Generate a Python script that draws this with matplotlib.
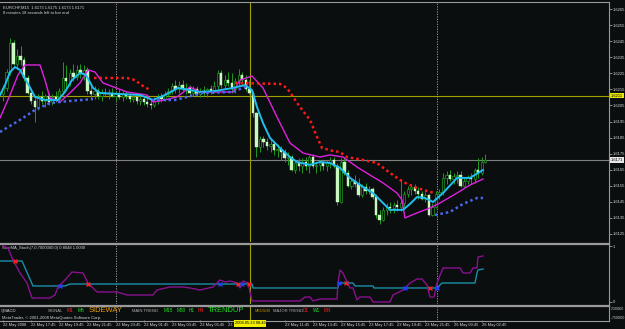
import matplotlib
matplotlib.use("Agg")
import matplotlib.pyplot as plt
from matplotlib.lines import Line2D
from matplotlib.transforms import blended_transform_factory as btf

# ---------------- data ----------------
BASE = 1.6200  # price base; candle / line series below are in pips relative to it
open_pips = [12,16,26,44,31,36,33,22,13,8, 4,10,8,11,7,10,9,14,22,20,
             25,23,27,25,27,14,12,14,11,13, 12,13,11,12,10,12,11,9,10,8,
             9,7,6,5,8,10,9,12,14,17, 15,18,15,16,13,15,12,14,13,15,
             14,17,25,18,21,19,15,20,24,21, 15,13,0,-21,-16,-18,-20,-19,-23,-22,
             -24,-28,-27,-35,-31,-33,-30,-33,-27,-33, -32,-31,-33,-30,-29,-33,-55,-30,-37,-45,
             -42,-44,-51,-46,-48,-47,-52,-63,-66,-60, -58,-59,-57,-58,-56,-50,-47,-46,-48,-50,
             -53,-51,-63,-58,-50,-49,-40,-38,-41,-39, -38,-45,-42,-40,-41,-35,-37,-30]
high_pips = [18,28,47,46,40,42,35,24,16,10, 12,14,12,13,12,14,16,32,30,28,
             31,30,31,30,29,19,17,16,15,16, 15,16,14,15,14,14,13,12,12,11,
             11,10,9,10,12,13,14,16,19,21, 20,21,19,18,17,17,16,17,16,18,
             20,27,27,24,26,25,22,28,26,24, 21,14,1,-14,-14,-15,-16,-17,-19,-20,
             -22,-24,-26,-29,-28,-28,-27,-26,-25,-30, -29,-29,-29,-27,-27,-31,-28,-27,-35,-40,
             -38,-40,-44,-43,-45,-46,-50,-60,-58,-56, -55,-55,-54,-41,-48,-45,-44,-44,-46,-48,
             -49,-50,-56,-48,-47,-37,-36,-35,-37,-36, -36,-40,-38,-37,-34,-28,-27,-25]
low_pips = [8,14,24,30,28,30,20,12,6,-5, 2,6,4,5,5,7,7,12,16,17,
            20,21,22,21,12,9,9,9,8,10, 9,10,8,9,8,9,7,7,6,5,
            5,4,3,4,6,7,8,10,12,13, 13,14,12,11,11,11,10,11,10,12,
            13,15,16,15,17,13,13,17,18,14, 12,-2,-27,-24,-21,-23,-24,-26,-27,-29,
            -30,-32,-36,-37,-36,-37,-35,-37,-34,-37, -36,-35,-36,-34,-34,-57,-56,-38,-46,-47,
            -46,-52,-52,-50,-50,-53,-65,-69,-67,-63, -62,-62,-61,-61,-58,-52,-51,-50,-53,-54,
            -55,-64,-64,-59,-53,-51,-44,-42,-44,-43, -46,-46,-44,-44,-43,-40,-38,-31]
close_pips = [16,26,44,31,36,33,22,13,8,4, 10,8,11,7,10,9,14,22,20,25,
              23,27,25,27,14,12,14,11,13,12, 13,11,12,10,12,11,9,10,8,9,
              7,6,5,8,10,9,12,14,17,15, 18,15,16,13,15,12,14,13,15,14,
              17,25,18,21,19,15,20,24,21,15, 13,0,-21,-16,-18,-20,-19,-23,-22,-24,
              -28,-27,-35,-31,-33,-30,-33,-27,-33,-32, -31,-33,-30,-29,-33,-55,-30,-37,-45,-42,
              -44,-51,-46,-48,-47,-52,-63,-66,-60,-58, -59,-57,-58,-56,-50,-47,-46,-48,-50,-53,
              -51,-63,-58,-50,-49,-40,-38,-41,-39,-38, -45,-42,-40,-41,-35,-37,-30,-29]

cyan_i = [-0.85,0.57,1.99,3.41,4.83,6.82,9.09,11.93,15.63,17.61,19.6,21.88,23.58,25.57,27.56,33.24,38.92,42.61,46.02,49.72,53.13,55.97,60.23,65.34,68.75,70.74,72.16,73.86,75.85,78.69,81.53,83.52,87.22,90.06,92.9,95.74,98.58,102.27,105.11,107.95,109.94,113.64,115.63,117.61,119.89,122.16,125.0,128.98,132.67,136.36]
cyan_p = [11.5,17.7,25.8,28.9,27.1,19.6,10.3,8.4,8.4,13.4,20.8,25.2,24.0,15.9,12.8,12.1,11.5,8.4,11.5,15.9,14.6,13.4,14.0,15.9,17.7,14.6,4.0,-5.9,-15.2,-21.5,-27.1,-30.2,-32.0,-30.2,-30.8,-33.9,-40.1,-45.7,-49.5,-55.7,-60.0,-60.0,-56.3,-52.0,-52.6,-55.1,-49.5,-40.1,-40.1,-35.2]

mag_i = [-0.85,1.99,4.26,6.25,10.51,11.93,13.35,16.19,19.03,21.88,24.15,26.14,28.41,35.23,40.91,42.61,46.02,49.43,53.13,55.97,65.34,67.33,70.74,73.86,77.84,81.53,85.23,90.06,92.9,96.59,100.57,104.26,107.95,111.93,113.35,114.2,117.61,121.31,124.15,128.98,132.67,136.36]
mag_p = [-2.8,11.5,24.0,30.2,30.2,20.8,9.6,7.2,12.8,19.0,27.1,25.8,19.0,13.4,11.5,7.2,8.4,10.3,16.5,13.4,13.4,20.8,23.3,15.9,-2.2,-18.4,-24.6,-27.1,-25.8,-27.1,-33.3,-38.3,-43.2,-49.5,-53.8,-65.0,-61.9,-58.8,-55.7,-49.5,-44.5,-40.8]

red1_i = [25.85,35.23,37.5,39.77,41.76]
red1_p = [22.1,22.1,20.8,17.1,14.6]
red2_i = [65.91,78.69,80.68,84.38,87.22,89.2,90.63,93.75,95.74,97.73,102.27,106.25,109.94,113.64,117.61,121.31,122.73]
red2_p = [19.0,18.4,15.9,4.0,-4.0,-14.6,-21.5,-23.3,-24.0,-27.1,-28.9,-30.8,-37.0,-42.6,-46.4,-48.8,-49.5]

blue1_i = [-0.85,4.83,9.09,13.35,19.03,25.57]
blue1_p = [-11.5,-4.0,2.2,6.5,7.8,9.0]
blue2_i = [42.33,48.86,56.82,65.34,68.75,70.17]
blue2_p = [8.4,8.4,12.8,13.4,16.5,16.5]
blue3_i = [122.73,126.99,130.68,134.66,136.36]
blue3_p = [-63.2,-61.3,-56.3,-52.6,-52.6]

price_ticks = [1.6125,1.6135,1.6145,1.6155,1.6165,1.6175,1.6185,1.6195,
               1.6205,1.6215,1.6225,1.6235,1.6245,1.6255,1.6265]
last_price = 1.6171
cross_price = 1.6211
cross_bar = 70.2
day_sep_bars = [32.1, 123.3]

# stochastic sub-window
stp_i = [0,1.42,2.84,4.83,6.82,8.24,13.35,14.77,15.63,17.61,19.6,22.73,24.15,26.7,32.39,35.23,42.61,43.75,47.44,51.14,53.13,55.97,59.66,61.65,63.07,64.49,66.48,67.33,68.18,69.6,70.74,84.38,85.8,87.22,88.07,90.06,94.89,95.17,95.74,96.59,97.73,98.58,99.43,100.57,101.42,104.26,105.11,109.94,110.8,113.64,115.63,117.61,119.03,120.45,121.31,122.44,123.3,125.0,129.83,130.68,132.67,133.52,134.66,134.94,136.36]
stp_v = [1.0,0.964,0.75,0.518,0.339,0.071,0.071,0.125,0.268,0.393,0.536,0.518,0.339,0.179,0.179,0.125,0.125,0.214,0.268,0.268,0.25,0.214,0.268,0.393,0.357,0.375,0.339,0.25,0.375,0.339,0.018,0.018,0.089,0.089,0.018,0.054,0.054,0.339,0.571,0.518,0.357,0.25,0.25,0.036,0.089,0.089,0.0,0.0,0.125,0.214,0.339,0.411,0.411,0.304,0.089,0.089,0.339,0.607,0.607,0.518,0.518,0.607,0.607,0.804,0.821]
stt_i = [-0.85,5.4,8.52,17.61,19.03,70.74,71.02,95.17,95.45,99.43,100.0,105.11,105.4,123.3,124.72,134.09,134.66,134.94,136.36]
stt_v = [0.732,0.732,0.286,0.286,0.321,0.321,0.25,0.25,0.339,0.339,0.286,0.286,0.25,0.25,0.339,0.339,0.518,0.571,0.589]
sell_i = [3.41,24.15,66.76,69.89,97.44,121.31]
sell_v = [0.732,0.321,0.321,0.321,0.339,0.25]
buy_i = [16.19,61.65,67.9,95.45,114.2,123.3]
buy_v = [0.286,0.321,0.321,0.339,0.25,0.25]

# time scale (the 09:45 label is hidden under the crosshair time box)
time_bars = [0,8,16,24,32,40,48,56,64,80,88,96,104,112,120,128,136]
time_labels = ["22 May 2008","22 May 17:45","22 May 19:45","22 May 21:45","22 May 23:45",
               "23 May 01:45","23 May 03:45","23 May 05:45","23 May 07:45",
               "23 May 11:45","23 May 13:45","23 May 15:45","23 May 17:45","23 May 19:45",
               "23 May 21:45","26 May 00:45","26 May 02:45"]

# ---------------- style ----------------
BG = "#0a0e0e"
GRID = "#9a9a9a"
TXT = "#d8d8d8"
WICK = "#1f9a1f"
BEAR = "#c8f8c0"
FONT = "Liberation Sans"
W, H = 625, 329
plt.rcParams["font.family"] = [FONT, "DejaVu Sans"]

fig = plt.figure(figsize=(W / 100, H / 100), dpi=100, facecolor=BG)


def box(x0, y0, x1, y1):
    return [x0 / W, 1 - y1 / H, (x1 - x0) / W, (y1 - y0) / H]


XL = (-0.85, 172.16)

ax = fig.add_axes(box(0, 2, 609, 242))
ax.set_facecolor(BG)
ax.set_xlim(*XL)
ax.set_ylim(1.61200, 1.62694)
for s in ax.spines.values():
    s.set_visible(False)
ax.set_xticks([])
ax.yaxis.tick_right()
ax.set_yticks(price_ticks)
ax.set_yticklabels([f"{t:.4f}" for t in price_ticks])
ax.tick_params(axis="y", colors=GRID, labelcolor=TXT, labelsize=3.0, length=2, width=0.6, pad=1)

# candles
for i, (o, h, l, c) in enumerate(zip(open_pips, high_pips, low_pips, close_pips)):
    O, Hh, L, C = (BASE + v / 1e4 for v in (o, h, l, c))
    ax.vlines(i, L, Hh, color=WICK, lw=0.7, zorder=2)
    if c < o:
        ax.bar(i, O - C, bottom=C, width=0.65, color=BEAR, edgecolor=BEAR, lw=0.3, zorder=3)
    elif c > o:
        ax.bar(i, C - O, bottom=O, width=0.65, color=BG, edgecolor=WICK, lw=0.5, zorder=3)
    else:
        ax.hlines(C, i - 0.33, i + 0.33, color=WICK, lw=0.6, zorder=3)


def pr(lst):
    return [BASE + v / 1e4 for v in lst]


ax.plot(mag_i, pr(mag_p), color="#e020e0", lw=1.0, zorder=4)
ax.plot(cyan_i, pr(cyan_p), color="#20bff0", lw=1.4, zorder=5)
for xi, yp in ((red1_i, red1_p), (red2_i, red2_p)):
    ax.plot(xi, pr(yp), color="#ff1818", lw=1.8, ls=(0, (1, 1.2)), zorder=6)
for xi, yp in ((blue1_i, blue1_p), (blue2_i, blue2_p), (blue3_i, blue3_p)):
    ax.plot(xi, pr(yp), color="#4a68f0", lw=1.8, ls=(0, (1, 1.2)), zorder=6)

ax.axhline(cross_price, color="#a0a000", lw=0.8, zorder=1)
ax.axhline(last_price, color="#808080", lw=0.8, zorder=1)

tr = btf(ax.transAxes, ax.transData)
ax.text(1.003, cross_price, f"{cross_price:.4f}", transform=tr, fontsize=3.0, color="black",
        va="center", ha="left", bbox=dict(boxstyle="square,pad=0.15", fc="#e8e800", ec="none"))
ax.text(1.003, last_price, f"{last_price:.4f}", transform=tr, fontsize=3.0, color="black",
        va="center", ha="left", bbox=dict(boxstyle="square,pad=0.15", fc="#e8e8e8", ec="none"))

ax.text(0.005, 0.985, "EURCHF,M15  1.6173 1.6175 1.6173 1.6171", transform=ax.transAxes,
        fontsize=3.0, color=TXT, va="top", ha="left")
ax.text(0.005, 0.962, "8 minutes 18 seconds left to bar end", transform=ax.transAxes,
        fontsize=3.0, color=TXT, va="top", ha="left")

# stochastic window
ax2 = fig.add_axes(box(0, 245, 609, 304))
ax2.set_facecolor(BG)
ax2.set_xlim(*XL)
ax2.set_ylim(-0.036, 1.018)
for s in ax2.spines.values():
    s.set_visible(False)
ax2.set_xticks([])
ax2.yaxis.tick_right()
ax2.set_yticks([0, 1])
ax2.set_yticklabels(["0", "1"])
ax2.tick_params(axis="y", colors=GRID, labelcolor=TXT, labelsize=3.0, length=2, width=0.6, pad=1)
ax2.plot(stt_i, stt_v, color="#1a8fa8", lw=1.0, zorder=3)
ax2.plot(stp_i, stp_v, color="#8a1090", lw=1.0, zorder=4)
ax2.scatter(sell_i, sell_v, marker="x", s=8, color="#ff2020", lw=1.0, zorder=5)
ax2.scatter(buy_i, buy_v, marker="x", s=8, color="#2040ff", lw=1.0, zorder=5)
ax2.text(0.003, 0.985, "StepMA_Stoch(7,0,7000000,0) 0.8048 1.0000", transform=ax2.transAxes,
         fontsize=3.0, color=TXT, va="top", ha="left")

# QMACD window
ax3 = fig.add_axes(box(0, 307, 609, 320))
ax3.set_facecolor(BG)
ax3.set_xlim(*XL)
ax3.set_ylim(0, 1)
for s in ax3.spines.values():
    s.set_visible(False)
ax3.set_yticks([])
ax3.set_xticks(time_bars)
ax3.set_xticklabels(time_labels)
for lab in ax3.get_xticklabels():
    lab.set_ha("left")
ax3.tick_params(axis="x", colors=GRID, labelcolor=TXT, labelsize=2.9, length=1.5, width=0.5, pad=1.0)

t3 = btf(ax3.transData, ax3.transAxes)
items = [(-0.5, "QMACD", TXT, 3.0), (12.8, "SIGNAL", "#b0b0b0", 3.0), (18.2, "M1", "#ff2020", 3.4),
         (21.3, "M5", "#20e020", 3.4), (24.4, "SIDEWAY", "#f0a000", 5.4),
         (36.7, "MAIN TREND", "#b0b0b0", 3.0), (45.5, "M15", "#20e020", 3.4),
         (49.4, "M30", "#20e020", 3.4), (52.8, "H1", "#20e020", 3.4), (55.4, "H4", "#ff2020", 3.4),
         (58.2, "TRENDUP", "#20e020", 5.4), (71.6, "MEDIUM", "#c09000", 2.8),
         (76.6, "MAJOR TREND", "#b0b0b0", 3.0), (85.2, "D1", "#ff2020", 3.4),
         (88.1, "W1", "#20e020", 3.4), (91.2, "MN", "#ff2020", 3.4)]
for xi, s, col, fs in items:
    ax3.text(xi, 0.7, s, transform=t3, fontsize=fs, color=col, va="center", ha="left")
ax3.text(0.003, 0.12, "MetaTrader, \u00a9 2001-2008 MetaQuotes Software Corp.", transform=ax3.transAxes,
         fontsize=3.0, color=TXT, va="center", ha="left")
fig.text(610.5 / W, 1 - 309 / H, ".7000000", fontsize=2.3, color=TXT, va="center", ha="left")
fig.text(610.5 / W, 1 - 318 / H, "-.7000000", fontsize=2.3, color=TXT, va="center", ha="left")

# crosshair + separators in all windows
for a in (ax, ax2, ax3):
    a.axvline(cross_bar, color="#a0a000", lw=0.8, zorder=1)
    for b in day_sep_bars:
        a.axvline(b, color="#a8a8a8", lw=0.6, ls=(0, (1.5, 1.5)), zorder=1)

tt = btf(ax3.transData, fig.transFigure)
fig.text(cross_bar, 1 - 323.5 / H, "2008.05.23 08:45", transform=tt, fontsize=2.9, color="black",
         ha="center", va="center", bbox=dict(boxstyle="square,pad=0.25", fc="#f0f000", ec="none"))

# frame lines
def hline(y, x0, x1, lw, col=GRID):
    fig.add_artist(Line2D([x0 / W, x1 / W], [1 - y / H, 1 - y / H], color=col, lw=lw))


hline(1.5, 0, 609, 0.8)
hline(243.5, 0, 609, 1.6)
hline(305.5, 0, 609, 1.6)
hline(321, 0, 609, 0.8)
fig.add_artist(Line2D([609 / W, 609 / W], [1 - 1.5 / H, 1 - 321 / H], color=GRID, lw=0.8))

fig.savefig("out.png", dpi=100, facecolor=BG)
